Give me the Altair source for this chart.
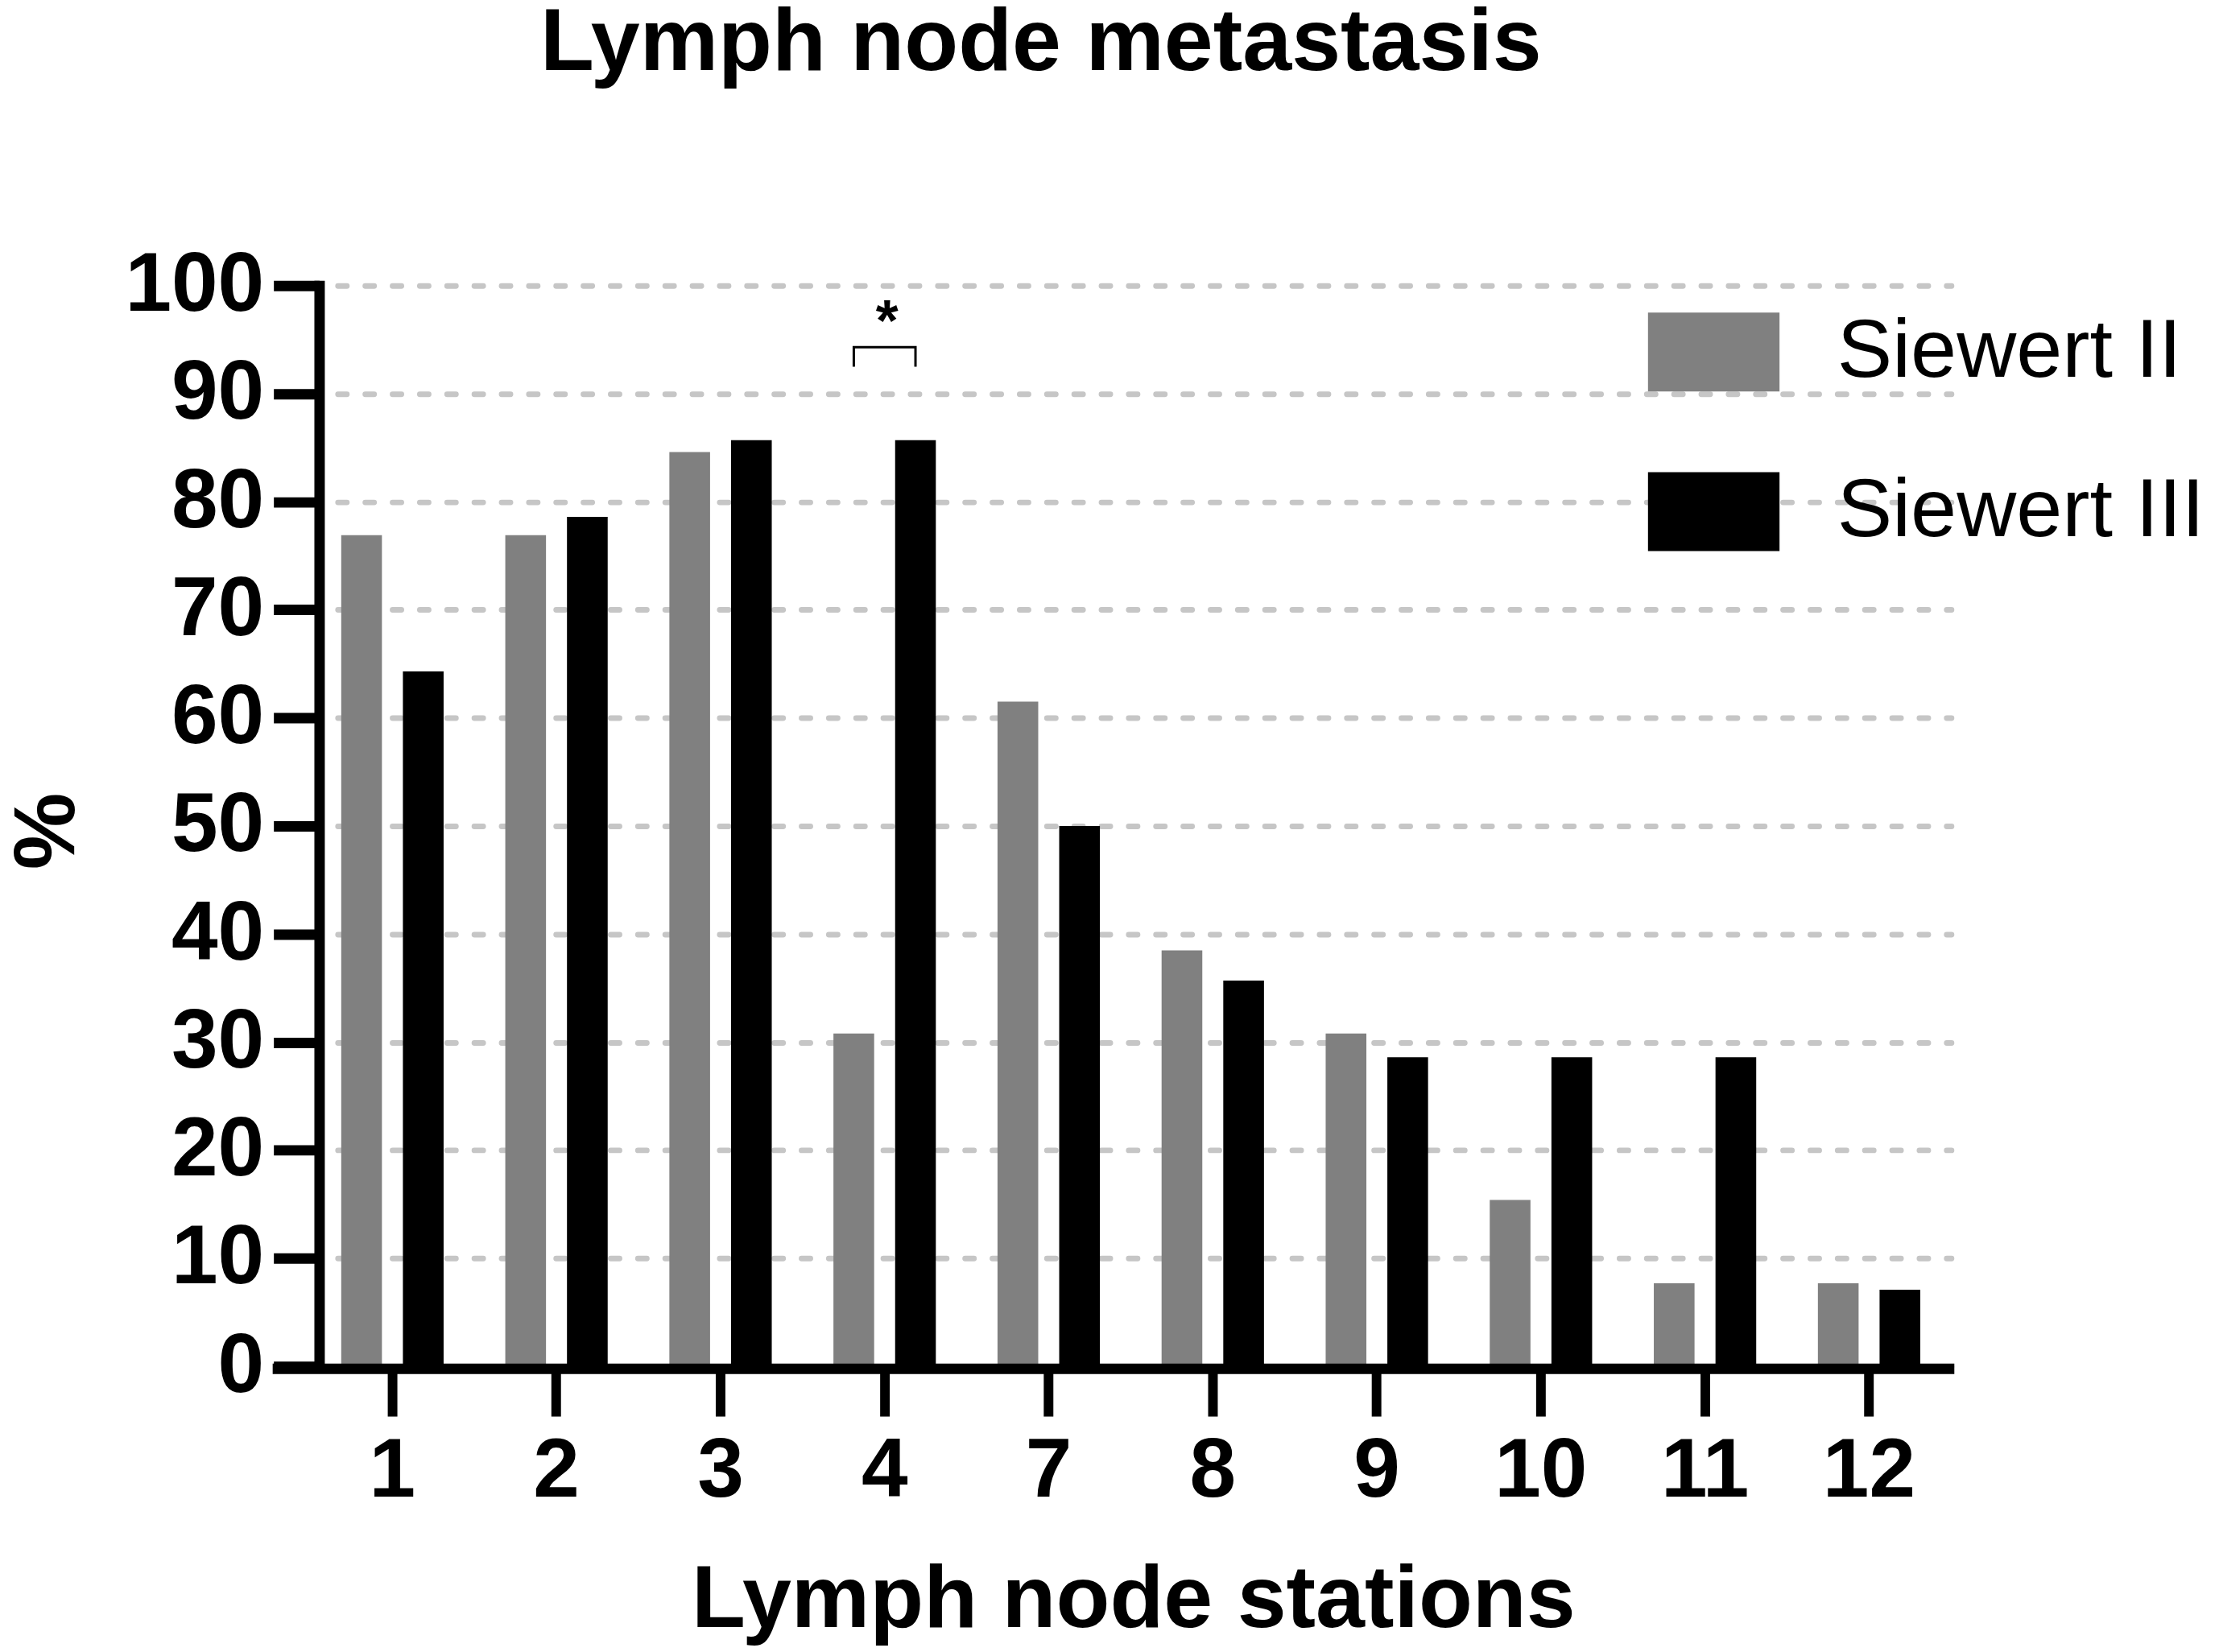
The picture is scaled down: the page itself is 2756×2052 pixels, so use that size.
import altair as alt
import pandas as pd

# ---- data ----
stations = ["1", "2", "3", "4", "7", "8", "9", "10", "11", "12"]
siewert_ii = [76.9, 76.9, 84.6, 30.8, 61.5, 38.5, 30.8, 15.4, 7.7, 7.7]
siewert_iii = [64.3, 78.6, 85.7, 85.7, 50.0, 35.7, 28.6, 28.6, 28.6, 7.1]
series = ["Siewert II", "Siewert III"]
colors = ["#808080", "#000000"]
y_ticks = [0, 10, 20, 30, 40, 50, 60, 70, 80, 90, 100]

# significance bracket at station 4
sig_station = "4"
sig_leg_low = 92.5
sig_leg_high = 94.3
sig_star_y = 94.9
sig_label = "*"

rows = []
for i, s in enumerate(stations):
    rows.append({"station": s, "series": series[0], "value": siewert_ii[i]})
    rows.append({"station": s, "series": series[1], "value": siewert_iii[i]})
bars_df = pd.DataFrame(rows)

bracket_df = pd.DataFrame({
    "station": [sig_station] * 4,
    "series": [series[0], series[0], series[1], series[1]],
    "value": [sig_leg_low, sig_leg_high, sig_leg_high, sig_leg_low],
    "order": [0, 1, 2, 3],
})
star_df = pd.DataFrame({"station": [sig_station], "value": [sig_star_y], "label": [sig_label]})
zero_df = pd.DataFrame({"value": [0]})

FONT = "Liberation Sans"
W, H = 2046, 1348

x_enc = alt.X(
    "station:N",
    sort=stations,
    scale=alt.Scale(paddingInner=0, paddingOuter=0),
    axis=alt.Axis(
        title="Lymph node stations",
        titleFont=FONT, titleFontSize=110, titleFontWeight="bold", titleColor="black",
        titleX=1026, titleY=324, titleBaseline="alphabetic",
        labelFont=FONT, labelFontSize=104, labelFontWeight="bold", labelColor="black",
        labelAngle=0, labelPadding=18,
        domain=False, ticks=True, tickSize=62, tickWidth=12, tickColor="black",
        grid=False,
    ),
)
y_enc = alt.Y(
    "value:Q",
    scale=alt.Scale(domain=[0, 100], nice=False),
    axis=alt.Axis(
        title="%",
        titleFont=FONT, titleFontSize=108, titleFontWeight="bold", titleColor="black",
        titleX=-338, titleY=H / 2 + 6, titleAngle=-90, titleAlign="center", titleBaseline="middle",
        values=y_ticks,
        labelFont=FONT, labelFontSize=104, labelFontWeight="bold", labelColor="black",
        labelPadding=12,
        domain=True, domainColor="black", domainWidth=13, domainCap="square",
        tickSize=57, tickWidth=13, tickColor="black",
        offset=-11,
        grid=True, gridColor="#c6c6c6", gridWidth=7, gridDash=[11, 23], gridCap="round",
    ),
)
xoff = alt.XOffset("series:N", sort=series,
                   scale=alt.Scale(paddingInner=0.34, paddingOuter=0.5))

bars = alt.Chart(bars_df).mark_bar().encode(
    x=x_enc,
    y=y_enc,
    xOffset=xoff,
    color=alt.Color(
        "series:N",
        sort=series,
        scale=alt.Scale(domain=series, range=colors),
        legend=alt.Legend(
            title=None, orient="none", legendX=1668, legendY=1,
            symbolType="M-1,-0.6H1V0.6H-1Z", symbolSize=26896,
            symbolStrokeWidth=0, symbolOpacity=1,
            labelFont=FONT, labelFontSize=103, labelColor="black", labelLimit=0,
            labelOffset=72, rowPadding=65, padding=0,
        ),
    ),
)

bracket = alt.Chart(bracket_df).mark_line(color="black", strokeWidth=3, strokeCap="butt",
                                          strokeJoin="miter").encode(
    x=alt.X("station:N", sort=stations),
    xOffset=alt.XOffset("series:N", sort=series),
    y=alt.Y("value:Q"),
    order="order:Q",
)

star = alt.Chart(star_df).mark_text(
    font=FONT, fontSize=72, fontWeight="bold", color="black",
    align="center", baseline="alphabetic", dx=3,
).encode(
    x=alt.X("station:N", sort=stations),
    y=alt.Y("value:Q"),
    text="label:N",
)

x_axis_line = alt.Chart(zero_df).mark_rule(color="black", strokeWidth=13, yOffset=3).encode(
    y=alt.Y("value:Q"),
    x=alt.value(-47),
    x2=alt.value(2050),
)

chart = alt.layer(bars, bracket, star, x_axis_line).properties(
    width=W,
    height=H,
    title=alt.TitleParams(
        "Lymph node metastasis",
        font=FONT, fontSize=110, fontWeight="bold", color="black",
        anchor="middle", dx=-112, baseline="alphabetic", offset=107,
    ),
    padding={"left": 379, "top": 344, "right": 326, "bottom": 344},
    autosize=alt.AutoSizeParams(type="none"),
).configure(background="white").configure_view(stroke=None)

chart.save("out.html", embed_options={"renderer": "svg", "actions": False})
